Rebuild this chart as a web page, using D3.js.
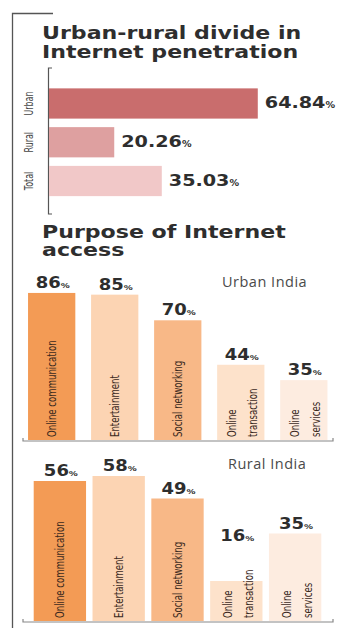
<!DOCTYPE html>
<html>
<head>
  <meta charset="utf-8">
  <script src="https://d3js.org/d3.v7.min.js"></script>
  <style>
    body { margin: 0; background: #fff; }
    svg { display: block; }
  </style>
</head>
<body>
  <div id="chart"></div>
  <script>
    // data
    var divideCats = ["Urban", "Rural", "Total"];
    var divideValues = [64.84, 20.26, 35.03];

    var purposeCats = ["Online communication", "Entertainment", "Social networking", "Online transaction", "Online services"];
    var urbanValues = [86, 85, 70, 44, 35];
    var ruralValues = [56, 58, 49, 16, 35];

    var divideColors = ["#c96d6d", "#dea0a0", "#f1c8c8"];
    var purposeColors = ["#f39b55", "#fcd4b3", "#f8b887", "#fde2cb", "#fdece0"];

    var width = 339, height = 628;
    var ink = "#2e2e2e";
    var boldFont = "'DejaVu Sans', sans-serif";

    var svg = d3.select("#chart").append("svg")
      .attr("width", width)
      .attr("height", height);

    // outer frame line
    svg.append("path")
      .attr("d", "M53,13.5H12.5V628")
      .attr("fill", "none")
      .attr("stroke", "#555")
      .attr("stroke-width", 1.3);

    // titles (the original uses a wide heavy face, so stretch it a bit)
    function title(lines, x, y0, lh) {
      lines.forEach(function (l, i) {
        svg.append("text")
          .attr("transform", "translate(" + x + "," + (y0 + i * lh) + ") scale(1.3,1)")
          .attr("font-family", boldFont)
          .attr("font-weight", "bold")
          .attr("font-size", 17)
          .attr("fill", ink)
          .text(l);
      });
    }
    title(["Urban-rural divide in", "Internet penetration"], 42, 39, 19);
    title(["Purpose of Internet", "access"], 42, 238, 18);

    // value label with small % sign
    function valueLabel(g, x, y, v, anchor, size) {
      var t = g.append("text")
        .attr("transform", "translate(" + x + "," + y + ") scale(1.2,1)")
        .attr("text-anchor", anchor)
        .attr("font-family", boldFont)
        .attr("font-weight", "bold")
        .attr("font-size", size)
        .attr("fill", ink);
      t.append("tspan").text(v);
      t.append("tspan").attr("font-size", size * 0.5).text("%");
    }

    // condensed rotated label, reads bottom to top
    function upLabel(g, x, y, txt, size, color, anchor) {
      g.append("text")
        .attr("transform", "translate(" + x + "," + y + ") rotate(-90) scale(0.66,1)")
        .attr("text-anchor", anchor)
        .attr("font-family", boldFont)
        .attr("font-size", size)
        .attr("fill", color)
        .text(txt);
    }

    // ---- chart 1: horizontal bars
    var x1 = d3.scaleLinear().domain([0, 100]).range([49, 371]);
    var y1 = d3.scaleBand().domain(divideCats).range([84.5, 200]).paddingInner(0.22).paddingOuter(0.1);

    var g1 = svg.append("g");
    g1.append("path")
      .attr("d", "M52,68H48.5V214H52")
      .attr("fill", "none")
      .attr("stroke", "#555")
      .attr("stroke-width", 1.2);

    g1.selectAll("rect")
      .data(divideValues)
      .enter().append("rect")
      .attr("x", x1(0))
      .attr("y", function (d, i) { return y1(divideCats[i]); })
      .attr("width", function (d) { return x1(d) - x1(0); })
      .attr("height", y1.bandwidth())
      .attr("fill", function (d, i) { return divideColors[i]; });

    divideValues.forEach(function (d, i) {
      valueLabel(g1, x1(d) + 7, y1(divideCats[i]) + y1.bandwidth() / 2 + 5, d.toFixed(2), "start", 16);
    });

    divideCats.forEach(function (c) {
      upLabel(g1, 33, y1(c) + y1.bandwidth() / 2, c, 12, "#444", "middle");
    });

    // ---- chart 2: vertical bar panels
    function panel(values, name, yRange, xRange, pad, axisY, nameX, nameY) {
      var x = d3.scaleBand().domain(purposeCats).range(xRange).paddingInner(pad).paddingOuter(0.08);
      var y = d3.scaleLinear().domain([0, 100]).range(yRange);
      var g = svg.append("g");

      g.selectAll("rect")
        .data(values)
        .enter().append("rect")
        .attr("x", function (d, i) { return x(purposeCats[i]); })
        .attr("y", function (d) { return y(d); })
        .attr("width", x.bandwidth())
        .attr("height", function (d) { return y(0) - y(d); })
        .attr("fill", function (d, i) { return purposeColors[i]; });

      values.forEach(function (d, i) {
        var cx = x(purposeCats[i]) + x.bandwidth() / 2;
        valueLabel(g, cx + 1, Math.min(y(d), y(30)) - 5, d, "middle", 15);

        // rotated category label inside bar
        var lines = (i >= 3) ? purposeCats[i].split(" ") : [purposeCats[i]];
        lines.forEach(function (l, j) {
          var lx = cx + (lines.length > 1 ? (j - 0.5) * 21 + 2 : 0) + 4;
          upLabel(g, lx, y(0) - 3, l, 13, "#3b2a1e", "start");
        });
      });

      // baseline with end ticks
      g.append("path")
        .attr("d", "M23," + (axisY - 3) + "V" + axisY + "H333V" + (axisY - 3))
        .attr("fill", "none")
        .attr("stroke", "#888")
        .attr("stroke-width", 1.2);

      g.append("text")
        .attr("x", nameX).attr("y", nameY)
        .attr("font-family", "'Open Sans', sans-serif")
        .attr("font-size", 14.5)
        .attr("letter-spacing", 0.5)
        .attr("fill", "#4a4a4a")
        .text(name);
    }

    panel(urbanValues, "Urban India", [440, 269], [23, 332.5], 0.25, 441, 222, 287);
    panel(ruralValues, "Rural India", [621, 371], [29, 326], 0.11, 622, 228, 469);
  </script>
</body>
</html>
